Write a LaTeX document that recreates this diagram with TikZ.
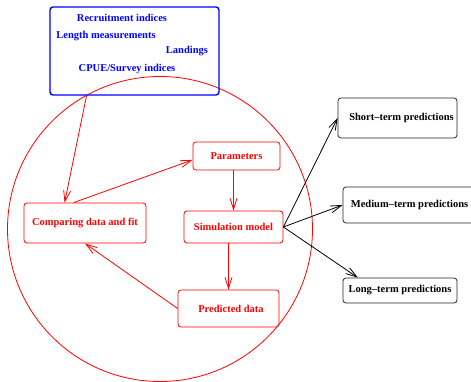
\documentclass[tikz,border=0pt]{standalone}
\usepackage{fontspec}
\setmainfont{Liberation Serif}
\usetikzlibrary{arrows.meta}
\tikzstyle{databox}=[draw=blue, line width=1.4pt, rounded corners=3pt, minimum width=169pt, minimum height=88pt, inner sep=0pt]
\tikzstyle{datatext}=[text=blue, font=\fontsize{10.5}{12}\selectfont\bfseries, inner sep=0pt]
\tikzstyle{fitbox}=[draw=red, text=red, rounded corners=3pt, inner sep=0pt, font=\fontsize{10.5}{12}\selectfont\bfseries]
\tikzstyle{predbox}=[draw=black!85, rounded corners=3pt, inner sep=0pt, font=\fontsize{10.5}{12}\selectfont\bfseries]

\begin{document}
\begin{tikzpicture}[x=1pt, y=-1pt, line width=0.8pt, >={Straight Barb[length=11pt,width=7pt]}]
                \useasboundingbox (0,0) rectangle (471,382);
                \draw[red] (160,229) circle (152.5pt);
                % data sources
                \node[databox] (data) at (134.5, 51) {};
                \node[datatext] (rec) at (122, 18) {Recruitment indices};
                \node[datatext] (len) at (106, 36) {Length measurements};
                \node[datatext] (land) at (187, 51) {Landings};
                \node[datatext] (cpue) at (127, 69) {CPUE/Survey indices};
                % fitting loop
                \node[fitbox, minimum width=122pt, minimum height=40pt] (comp) at (85, 223) {Comparing data and fit\hspace{9pt}};
                \node[fitbox, minimum width=87pt, minimum height=28pt] (param) at (236.5, 156) {Parameters\hspace{5pt}};
                \node[fitbox, minimum width=99pt, minimum height=32pt] (sim) at (233.5, 227) {Simulation model};
                \node[fitbox, minimum width=101pt, minimum height=37pt] (pred) at (228.5, 308.5) {\hspace{5pt}Predicted data};
                % predictions
                \node[predbox, minimum width=119pt, minimum height=40pt] (short) at (397.5, 118) {\hspace{8pt}Short--term predictions};
                \node[predbox, minimum width=133pt, minimum height=36pt] (medium) at (409.5, 205) {Medium--term predictions};
                \node[predbox, minimum width=114pt, minimum height=25pt] (long) at (400, 290.5) {Long--term predictions};
                \draw[red, ->] (data.223) -- (comp.135);
                \draw[red, ->] (comp.119) -- (param.185);
                \draw[red, ->] (param.south -| sim) -- (sim.north);
                \draw[red, ->] (sim.south -| pred) -- (pred.north);
                \draw[red, ->] (pred.west) -- (comp.south);
                \draw[->] (sim.east) -- (short.west);
                \draw[->] (sim.east) -- (medium.west);
                \draw[->] (sim.east) -- (long.163);
            \end{tikzpicture}
\end{document}
